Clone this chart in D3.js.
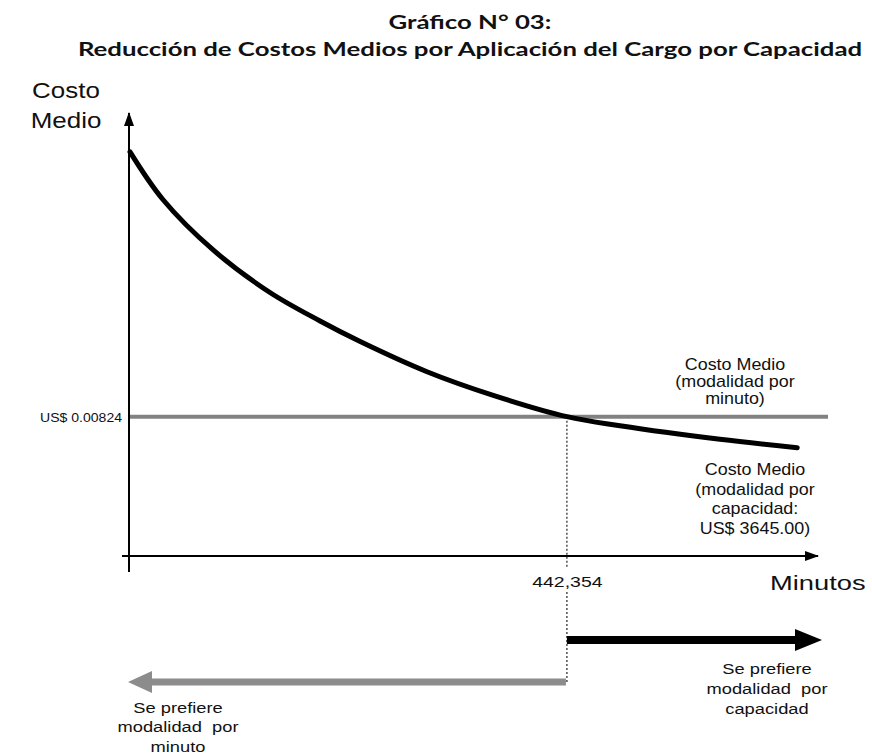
<!DOCTYPE html>
<html>
<head>
<meta charset="utf-8">
<script src="https://cdn.jsdelivr.net/npm/d3@7"></script>
<style>
  body { margin: 0; background: #fff; }
  svg { display: block; }
  text { font-family: "Liberation Sans", Arial, sans-serif; fill: #111; }
  .title { font-family: Lato, "Open Sans", sans-serif; font-weight: bold; }
</style>
</head>
<body>
<svg id="chart" width="872" height="755"></svg>
<script>
// values
var minutes = [1000, 34000, 85000, 142000, 193000, 233000, 301000, 368000, 442354, 496000, 597000, 675000];
var costCapacity = [0.0239, 0.0211, 0.0181, 0.0156, 0.0139, 0.0127, 0.0109, 0.0095, 0.00824, 0.0077, 0.0069, 0.0064];
var costMinute = 0.00824;
var breakEven = 442354;
var xMax = 696000, yMax = 0.0262;

var titleLines = ["Gráfico N° 03:", "Reducción de Costos Medios por Aplicación del Cargo por Capacidad"];
var yTitle = ["Costo", "Medio"];
var xTitle = "Minutos";
var labelMinute = ["Costo Medio", "(modalidad por", "minuto)"];
var labelCapacity = ["Costo Medio", "(modalidad por", "capacidad:", "US$ 3645.00)"];
var prefCapacity = ["Se prefiere", "modalidad  por", "capacidad"];
var prefMinute = ["Se prefiere", "modalidad  por", "minuto"];

var data = minutes.map(function(m, i) { return {m: m, c: costCapacity[i]}; });

var margin = {top: 113, right: 54, bottom: 199, left: 129};
var width = 872 - margin.left - margin.right;
var height = 755 - margin.top - margin.bottom;

var svg = d3.select("#chart");

// horizontal stretch around the text anchor (the scan is wider than tall)
function stretch(sel, sx) {
  sel.attr("transform", function() {
    var x = +d3.select(this).attr("x") || 0;
    return "translate(" + x + ",0) scale(" + sx + ",1) translate(" + (-x) + ",0)";
  });
}

function lines(parent, arr, cx, y0, dy, size, sx, anchor) {
  var t = parent.selectAll(null).data(arr).enter().append("text")
      .attr("x", cx)
      .attr("y", function(d, i) { return y0 + i * dy; })
      .attr("text-anchor", anchor || "middle")
      .attr("font-size", size)
      .style("white-space", "pre")
      .text(function(d) { return d; });
  stretch(t, sx);
  return t;
}

// title
var tt = svg.selectAll(".title").data(titleLines).enter().append("text")
    .attr("class", "title")
    .attr("x", 470)
    .attr("y", function(d, i) { return 29 + i * 27; })
    .attr("text-anchor", "middle")
    .attr("font-size", 19)
    .text(function(d) { return d; });
var tsx = 785 / tt.nodes()[1].getComputedTextLength();
stretch(tt, tsx);

var defs = svg.append("defs");
defs.append("marker")
    .attr("id", "head")
    .attr("markerUnits", "userSpaceOnUse")
    .attr("viewBox", "0 -6 14 12")
    .attr("refX", 13).attr("refY", 0)
    .attr("markerWidth", 14).attr("markerHeight", 12)
    .attr("orient", "auto")
  .append("path")
    .attr("d", "M0,-5L14,0L0,5Z")
    .attr("fill", "#000");

var g = svg.append("g")
    .attr("transform", "translate(" + margin.left + "," + margin.top + ")");

var x = d3.scaleLinear().domain([0, xMax]).range([0, width]);
var y = d3.scaleLinear().domain([0, yMax]).range([height, 0]);

// per-minute average cost (flat)
g.append("line")
    .attr("x1", x(0) + 1).attr("x2", x(xMax) + 10)
    .attr("y1", y(costMinute)).attr("y2", y(costMinute))
    .attr("stroke", "#828282")
    .attr("stroke-width", 4);

// axes lines with arrows
g.append("line")
    .attr("x1", 0).attr("x2", 0)
    .attr("y1", height + 16).attr("y2", 0)
    .attr("stroke", "#000").attr("stroke-width", 2)
    .attr("marker-end", "url(#head)");
g.append("line")
    .attr("x1", -7).attr("x2", width)
    .attr("y1", height).attr("y2", height)
    .attr("stroke", "#000").attr("stroke-width", 2)
    .attr("marker-end", "url(#head)");

var lowY = 569, rightY = 527;

// dotted drop line, broken where the tick label sits
[[y(costMinute), height + 12], [height + 36, lowY]].forEach(function(s) {
  g.append("line")
      .attr("x1", x(breakEven)).attr("x2", x(breakEven))
      .attr("y1", s[0]).attr("y2", s[1])
      .attr("stroke", "#333").attr("stroke-width", 1.3)
      .attr("stroke-dasharray", "2,2");
});

// tick labels through the axes
var xa = g.append("g")
    .attr("transform", "translate(0," + height + ")")
    .call(d3.axisBottom(x).tickValues([breakEven]).tickFormat(d3.format(",")).tickSize(0).tickPadding(20));
xa.select(".domain").remove();
xa.attr("font-family", null).attr("font-size", 15);
stretch(xa.selectAll("text"), 1.3);

var ya = g.append("g")
    .call(d3.axisLeft(y).tickValues([costMinute]).tickFormat(function(d) { return "US$ " + d; }).tickSize(0).tickPadding(7));
ya.select(".domain").remove();
ya.attr("font-family", null).attr("font-size", 13.5);
stretch(ya.selectAll("text"), 1.04);

// capacity average cost curve
var line = d3.line()
    .x(function(d) { return x(d.m); })
    .y(function(d) { return y(d.c); })
    .curve(d3.curveCatmullRom.alpha(0.5));

g.append("path")
    .datum(data)
    .attr("fill", "none")
    .attr("stroke", "#000")
    .attr("stroke-width", 5)
    .attr("stroke-linecap", "round")
    .attr("d", line);

// preference arrows
var arrow = d3.line();
function bigArrow(x0, x1, yy, half, headHalf, headLen, color) {
  var dir = x1 > x0 ? 1 : -1;
  var hb = x1 - dir * headLen;
  g.append("path")
    .attr("d", arrow([[x0, yy - half], [hb, yy - half], [hb, yy - headHalf], [x1, yy],
                      [hb, yy + headHalf], [hb, yy + half], [x0, yy + half]]) + "Z")
    .attr("fill", color);
}
bigArrow(x(breakEven), x(xMax) + 4, rightY, 4, 11, 27, "#000");
bigArrow(x(breakEven) - 1, x(0) - 1, lowY, 3.5, 11, 24, "#8c8c8c");

// text labels
lines(g, yTitle, 66 - margin.left, 98 - margin.top, 30, 22, 1.18);
lines(g, [xTitle], 770 - margin.left, 590 - margin.top, 0, 21, 1.3, "start");
lines(g, labelMinute, 735 - margin.left, 370 - margin.top, 17, 16, 1.12);
lines(g, labelCapacity, 755 - margin.left, 475 - margin.top, 19.7, 16, 1.12);
lines(g, prefCapacity, 767 - margin.left, 674 - margin.top, 20, 15, 1.22);
lines(g, prefMinute, 178 - margin.left, 713 - margin.top, 19.5, 15, 1.22);
</script>
</body>
</html>
